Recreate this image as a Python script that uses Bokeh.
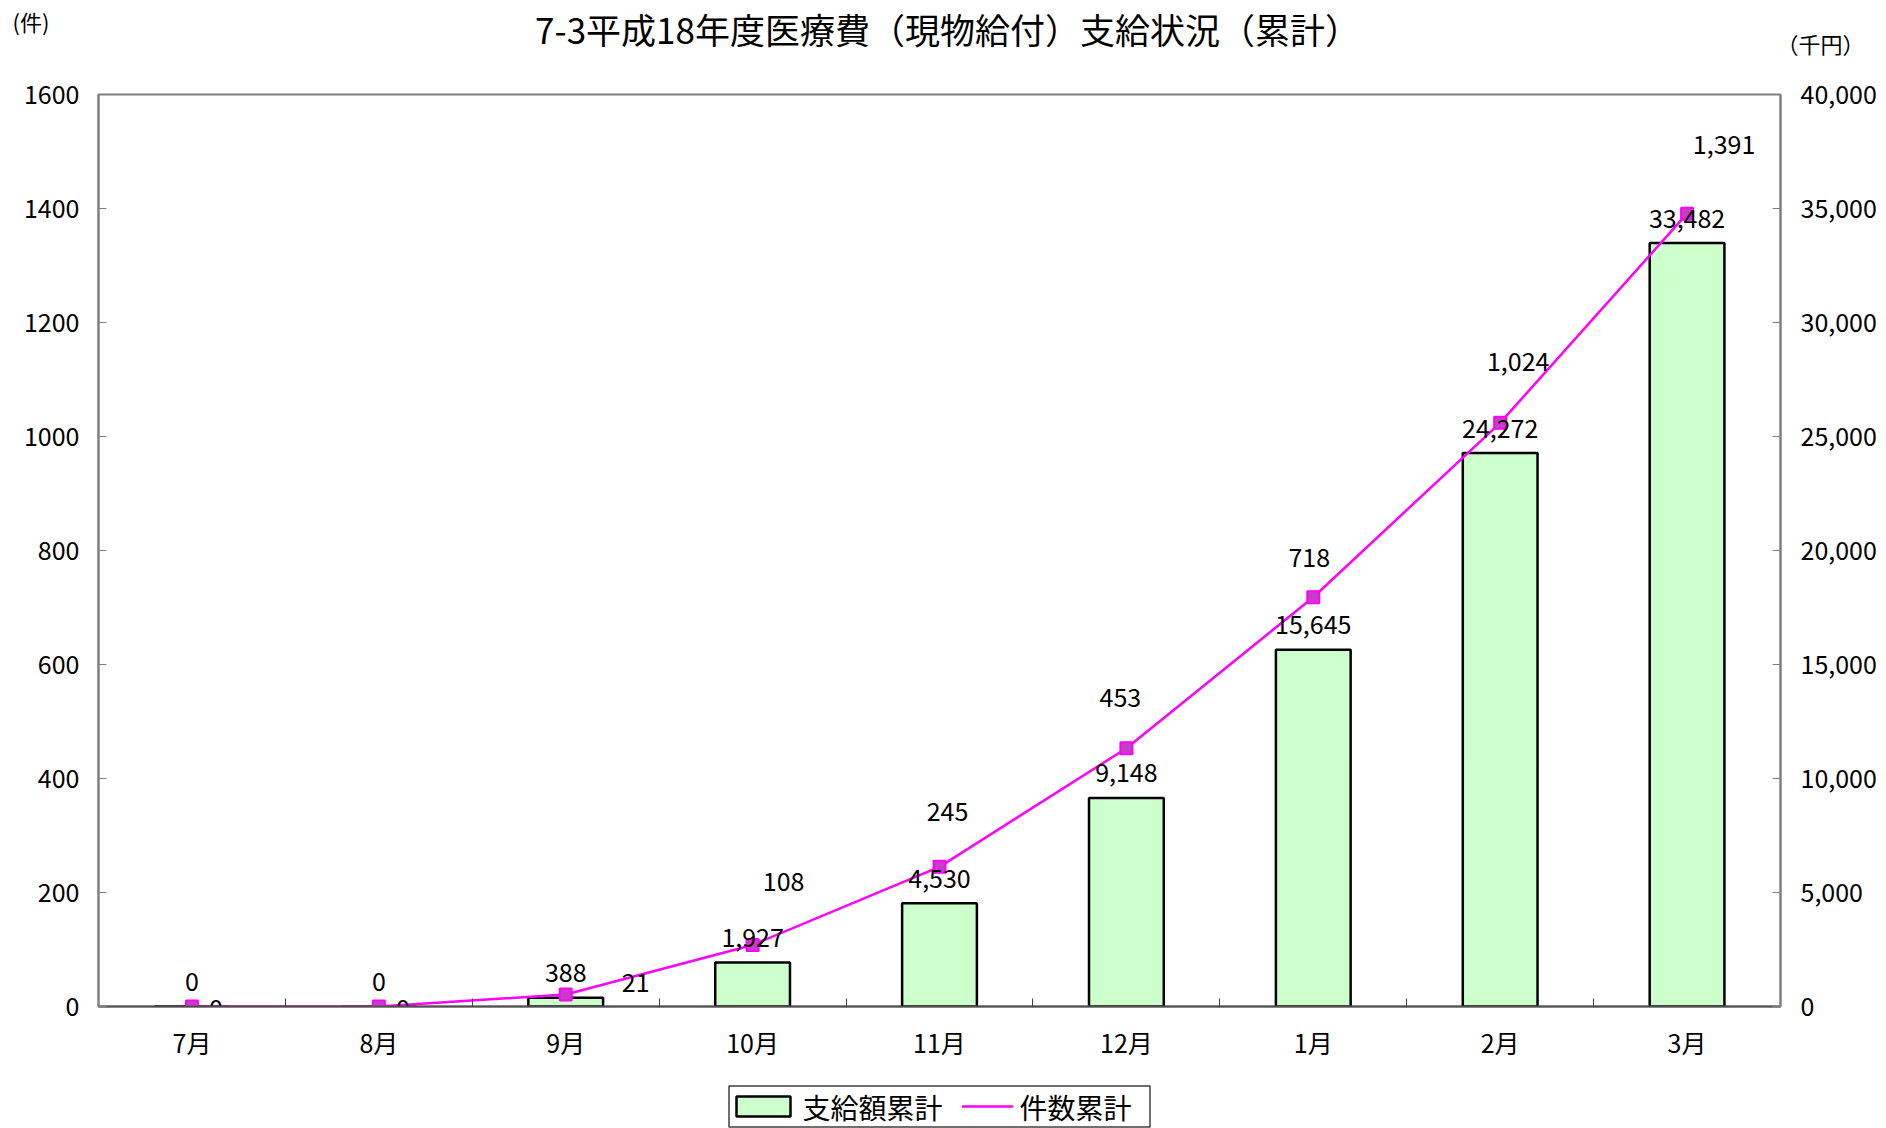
from bokeh.plotting import figure
from bokeh.models import (Range1d, LinearAxis, FixedTicker, NumeralTickFormatter,
                          ColumnDataSource)
from bokeh.core.properties import value
from bokeh.embed import file_html
from bokeh.resources import INLINE

# ---- data ----
months = ["7月", "8月", "9月", "10月", "11月", "12月", "1月", "2月", "3月"]
amount = [0, 0, 388, 1927, 4530, 9148, 15645, 24272, 33482]   # 支給額累計 (千円)
count = [0, 0, 21, 108, 245, 453, 718, 1024, 1391]            # 件数累計 (件)
left_ticks = [0, 200, 400, 600, 800, 1000, 1200, 1400, 1600]
right_ticks = [0, 5000, 10000, 15000, 20000, 25000, 30000, 35000, 40000]
title_text = "7-3平成18年度医療費（現物給付）支給状況（累計）"
left_unit = "(件)"
right_unit = "（千円）"
series_names = ["支給額累計", "件数累計"]

# ---- style ----
FONT = "Noto Sans CJK JP"
FS = "25px"
FRAME_W, FRAME_H = 1682, 912
BAR_FILL, BAR_LINE = "#CCFFCC", "black"
LINE_COLOR, MARK_FILL = "#FF00FF", "#C83CC8"
# pixel offsets of the count labels from their markers (dx, dy; dy positive = down)
count_label_offsets = [(24, 2), (24, 2), (70, -12), (31, -63), (8, -55),
                       (-6, -51), (-4, -40), (18, -61), (37, -69)]

n = len(months)
xc = [i + 0.5 for i in range(n)]
ytop = left_ticks[-1]

p = figure(frame_width=FRAME_W, frame_height=FRAME_H, output_backend="svg",
           toolbar_location=None, title=None,
           x_range=Range1d(0, n), y_range=Range1d(left_ticks[0], ytop),
           min_border_left=98, min_border_right=104, min_border_top=94,
           min_border_bottom=122)
p.extra_y_ranges = {"amt": Range1d(right_ticks[0], right_ticks[-1])}
p.xgrid.visible = False
p.ygrid.visible = False
p.outline_line_color = "#808080"
p.outline_line_width = 2
p.background_fill_color = "white"
p.border_fill_color = "white"

# x axis
xa = p.xaxis[0]
xa.ticker = FixedTicker(ticks=xc, minor_ticks=[i for i in range(1, n)])
xa.major_label_overrides = {xc[i]: months[i] for i in range(n)}
xa.major_tick_line_color = None
xa.minor_tick_in = 8
xa.minor_tick_out = 0
xa.minor_tick_line_color = "#404040"
xa.axis_line_color = "#505050"
xa.axis_line_width = 2
xa.major_label_standoff = 11
xa.major_label_text_font = FONT
xa.major_label_text_font_size = FS
xa.major_label_text_color = "black"

# left axis
ya = p.yaxis[0]
ya.ticker = FixedTicker(ticks=left_ticks)
ya.major_tick_in = 8
ya.major_tick_out = 0
ya.minor_tick_line_color = None
ya.axis_line_color = "#808080"
ya.axis_line_width = 2
ya.major_tick_line_color = "#808080"
ya.major_label_standoff = 19
ya.major_label_text_font = FONT
ya.major_label_text_font_size = FS
ya.major_label_text_color = "black"

# right axis
ra = LinearAxis(y_range_name="amt", ticker=FixedTicker(ticks=right_ticks),
                formatter=NumeralTickFormatter(format="0,0"))
ra.major_tick_in = 8
ra.major_tick_out = 0
ra.minor_tick_line_color = None
ra.axis_line_color = "#808080"
ra.axis_line_width = 2
ra.major_tick_line_color = "#808080"
ra.major_label_standoff = 20
ra.major_label_text_font = FONT
ra.major_label_text_font_size = FS
ra.major_label_text_color = "black"
p.add_layout(ra, "right")

# bars
src_bar = ColumnDataSource(dict(x=xc, top=amount, lbl=[f"{v:,}" for v in amount]))
r_bar = p.vbar(x="x", top="top", width=0.4, source=src_bar, y_range_name="amt",
               fill_color=BAR_FILL, line_color=BAR_LINE, line_width=2.5)

# line
src_ln = ColumnDataSource(dict(x=xc, y=count, lbl=[f"{v:,}" for v in count],
                               dx=[o[0] for o in count_label_offsets],
                               dy=[o[1] for o in count_label_offsets]))
r_line = p.line(x="x", y="y", source=src_ln, line_color=LINE_COLOR, line_width=2.5)
r_pts = p.scatter(x="x", y="y", source=src_ln, marker="square", size=12,
                  fill_color=MARK_FILL, line_color=LINE_COLOR, line_width=2)

# data labels
p.text(x="x", y="top", text="lbl", source=src_bar, y_range_name="amt",
       text_align="center", text_baseline="middle", y_offset=-25,
       text_font=value(FONT), text_font_size=FS, text_color="black")
p.text(x="x", y="y", text="lbl", source=src_ln,
       text_align="center", text_baseline="middle", x_offset="dx", y_offset="dy",
       text_font=value(FONT), text_font_size=FS, text_color="black")

# title and unit captions (drawn above the frame, unclipped overlay level)
p.text(x=[n / 2], y=[ytop], text=[title_text], text_align="center",
       text_baseline="middle", x_offset=8, y_offset=-66, level="overlay",
       text_font=value(FONT), text_font_size="35px", text_color="black")
p.text(x=[0], y=[ytop], text=[left_unit], text_align="left",
       text_baseline="middle", x_offset=-86, y_offset=-74, level="overlay",
       text_font=value(FONT), text_font_size="22px", text_color="black")
p.text(x=[n], y=[ytop], text=[right_unit], text_align="left",
       text_baseline="middle", x_offset=-4, y_offset=-52, level="overlay",
       text_font=value(FONT), text_font_size="22px", text_color="black")

# legend key below the x axis (overlay level so it is not clipped by the frame)
ux = n / FRAME_W                              # data units per pixel (x)
uy = (ytop - left_ticks[0]) / FRAME_H         # data units per pixel (y)
lx0 = n / 2
ly0 = left_ticks[0] - 100 * uy
p.rect(x=[lx0], y=[ly0], width=421, height=41, width_units="screen",
       height_units="screen", fill_color="white", line_color="#404040",
       line_width=1.5, level="overlay")
p.rect(x=[lx0 - 176 * ux], y=[ly0], width=54, height=20, width_units="screen",
       height_units="screen", fill_color=BAR_FILL, line_color=BAR_LINE,
       line_width=2.5, level="overlay")
p.rect(x=[lx0 + 48 * ux], y=[ly0], width=51, height=2.5, width_units="screen",
       height_units="screen", fill_color=LINE_COLOR, line_color=None,
       level="overlay")
p.scatter(x=[lx0 + 48 * ux], y=[ly0], marker="square", size=12,
          fill_color=MARK_FILL, line_color=LINE_COLOR, line_width=2, level="overlay")
p.text(x=[lx0], y=[ly0], text=[series_names[0]], text_align="left",
       text_baseline="middle", x_offset=-137, level="overlay",
       text_font=value(FONT), text_font_size="28px", text_color="black")
p.text(x=[lx0], y=[ly0], text=[series_names[1]], text_align="left",
       text_baseline="middle", x_offset=80, level="overlay",
       text_font=value(FONT), text_font_size="28px", text_color="black")

open("out.html", "w").write(file_html(p, INLINE))
